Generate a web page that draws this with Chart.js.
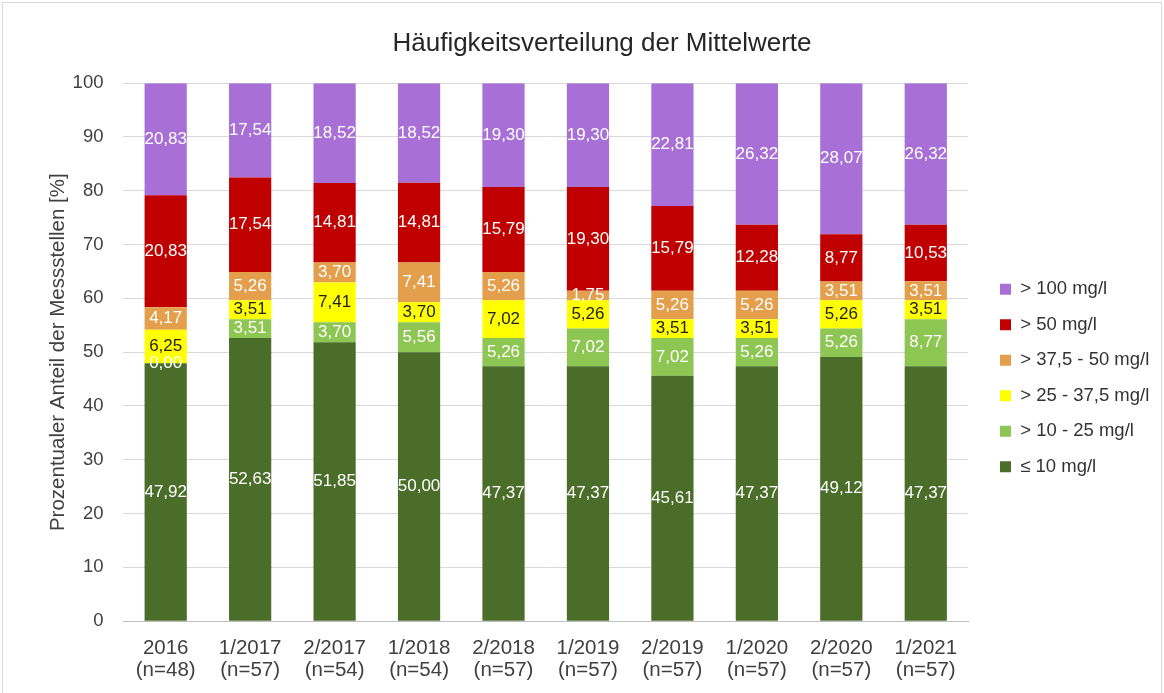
<!DOCTYPE html>
<html>
<head>
<meta charset="utf-8">
<script src="https://cdn.jsdelivr.net/npm/chart.js@4.4.0/dist/chart.umd.min.js"></script>
<style>
  html, body { margin: 0; padding: 0; background: #fff; }
  #wrap { position: relative; width: 1164px; height: 693px; }
  #wrap:after { content: ""; position: absolute; left: 2px; top: 2px; right: 2px; bottom: -2px; border: 1px solid #d9d9d9; pointer-events: none; }
</style>
</head>
<body>
<div id="wrap"><canvas id="myChart" width="1164" height="693"></canvas></div>
<script>
// Kategorien (Zeitraum + Anzahl Messstellen)
const categories = [
  ["2016", "(n=48)"], ["1/2017", "(n=57)"], ["2/2017", "(n=54)"], ["1/2018", "(n=54)"],
  ["2/2018", "(n=57)"], ["1/2019", "(n=57)"], ["2/2019", "(n=57)"], ["1/2020", "(n=57)"],
  ["2/2020", "(n=57)"], ["1/2021", "(n=57)"]
];

// Anteile je Klasse in %
const le10  = [47.92, 52.63, 51.85, 50.00, 47.37, 47.37, 45.61, 47.37, 49.12, 47.37];
const gt10  = [0.00, 3.51, 3.70, 5.56, 5.26, 7.02, 7.02, 5.26, 5.26, 8.77];
const gt25  = [6.25, 3.51, 7.41, 3.70, 7.02, 5.26, 3.51, 3.51, 5.26, 3.51];
const gt37  = [4.17, 5.26, 3.70, 7.41, 5.26, 1.75, 5.26, 5.26, 3.51, 3.51];
const gt50  = [20.83, 17.54, 14.81, 14.81, 15.79, 19.30, 15.79, 12.28, 8.77, 10.53];
const gt100 = [20.83, 17.54, 18.52, 18.52, 19.30, 19.30, 22.81, 26.32, 28.07, 26.32];

const yTicks = [0, 10, 20, 30, 40, 50, 60, 70, 80, 90, 100];

const FONT = "'Liberation Sans', Arial, sans-serif";

// Werte in die Balken schreiben
const valueLabels = {
  id: "valueLabels",
  afterDatasetsDraw(chart) {
    const ctx = chart.ctx;
    ctx.save();
    ctx.font = "17px " + FONT;
    ctx.textAlign = "center";
    ctx.textBaseline = "middle";
    chart.data.datasets.forEach((ds, i) => {
      const meta = chart.getDatasetMeta(i);
      meta.data.forEach((bar, j) => {
        const v = ds.data[j];
        ctx.fillStyle = ds.labelColor;
        ctx.fillText(v.toFixed(2).replace(".", ","), bar.x, (bar.y + bar.base) / 2);
      });
    });
    ctx.restore();
  }
};

// Legende rechts mit Abstand zum Diagramm
const legendPlace = {
  id: "legendPlace",
  beforeLayout(chart) {
    const lg = chart.legend;
    if (lg && !lg._patched) {
      const fit = lg.fit;
      lg.fit = function() { fit.call(this); this.width = 196; };
      lg._patched = true;
    }
  },
  afterLayout(chart) {
    const lg = chart.legend;
    if (!lg) return;
    lg.left = 1000 - 17;
    lg.top = 263;
  }
};

let config = {
  type: "bar",
  data: {
    labels: categories,
    datasets: [
      { label: "≤ 10 mg/l", data: le10, backgroundColor: "#4a6e2a", labelColor: "#fff" },
      { label: "> 10 - 25 mg/l", data: gt10, backgroundColor: "#8dc652", labelColor: "#fff" },
      { label: "> 25 - 37,5 mg/l", data: gt25, backgroundColor: "#ffff00", labelColor: "#222" },
      { label: "> 37,5 - 50 mg/l", data: gt37, backgroundColor: "#e39f4c", labelColor: "#fff" },
      { label: "> 50 mg/l", data: gt50, backgroundColor: "#c00000", labelColor: "#fff" },
      { label: "> 100 mg/l", data: gt100, backgroundColor: "#a86fd6", labelColor: "#fff" }
    ]
  },
  options: {
    responsive: false,
    animation: false,
    layout: { padding: { left: 40, right: 0, top: 14, bottom: 12 } },
    datasets: { bar: { barPercentage: 0.5, categoryPercentage: 1.0 } },
    scales: {
      x: {
        stacked: true,
        afterFit: (scale) => { scale.height -= 16; },
        grid: { display: false, drawTicks: false },
        border: { color: "#bfbfbf" },
        ticks: { color: "#404040", font: { size: 20.5, family: FONT, lineHeight: 1.07 }, padding: 16, maxRotation: 0 }
      },
      y: {
        stacked: true,
        min: 0, max: 100,
        afterBuildTicks: (axis) => { axis.ticks = yTicks.map(v => ({ value: v })); },
        afterFit: (scale) => { scale.width -= 20; },
        grid: { color: "#d9d9d9", drawTicks: false },
        border: { display: false },
        ticks: { color: "#404040", font: { size: 18.5, family: FONT }, padding: 20 },
        title: {
          display: true,
          text: "Prozentualer Anteil der Messstellen [%]",
          color: "#404040",
          font: { size: 20.5, family: FONT },
          padding: { top: 6, bottom: 2 }
        }
      }
    },
    plugins: {
      title: {
        display: true,
        text: "Häufigkeitsverteilung der Mittelwerte",
        color: "#262626",
        font: { size: 26, family: FONT, weight: "normal" },
        padding: { top: 14, bottom: 24 }
      },
      legend: {
        position: "right",
        align: "start",
        reverse: true,
        labels: {
          color: "#333333",
          font: { size: 18.5, family: FONT },
          boxWidth: 11,
          boxHeight: 11,
          padding: 17
        }
      },
      tooltip: { enabled: false }
    }
  },
  plugins: [valueLabels, legendPlace]
};

window.addEventListener("load", function() {
  let ctx = document.getElementById("myChart").getContext("2d");
  myChart = new Chart(ctx, config);
}, false);
</script>
</body>
</html>
